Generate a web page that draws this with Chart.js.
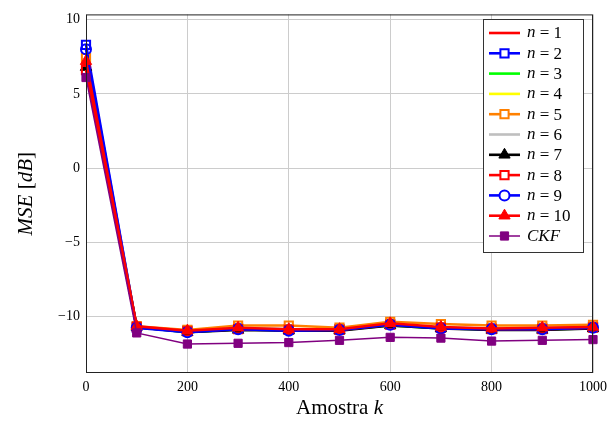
<!DOCTYPE html>
<html lang="pt">
<head>
    <meta charset="UTF-8">
    <title>MSE por amostra</title>
    <script src="https://cdn.jsdelivr.net/npm/chart.js"></script>
    <style>
        body { margin: 0; background: #fff; }
        #wrap { width: 614px; height: 423px; }
    </style>
</head>
<body>
    <div id="wrap"><canvas id="chart" width="614" height="423"></canvas></div>
    <script>
        // Data
        const samples = [0, 100, 200, 300, 400, 500, 600, 700, 800, 900, 1000];
        const xTicks = [0, 200, 400, 600, 800, 1000];
        const yTicks = [-10, -5, 0, 5, 10];

        const mseN1  = [7.0, -10.70, -11.00, -10.85, -10.90, -10.90, -10.55, -10.75, -10.85, -10.85, -10.75];
        const mseN2  = [8.3, -10.75, -10.95, -10.80, -10.85, -10.85, -10.50, -10.75, -10.80, -10.80, -10.70];
        const mseN3  = [7.1, -10.70, -11.05, -10.85, -10.90, -10.90, -10.60, -10.80, -10.85, -10.85, -10.80];
        const mseN4  = [7.2, -10.70, -11.00, -10.80, -10.85, -10.90, -10.55, -10.75, -10.80, -10.80, -10.75];
        const mseN5  = [7.4, -10.65, -10.90, -10.60, -10.60, -10.75, -10.35, -10.50, -10.60, -10.60, -10.55];
        const mseN6  = [7.0, -10.70, -11.00, -10.85, -10.90, -10.90, -10.60, -10.75, -10.85, -10.85, -10.80];
        const mseN7  = [6.8, -10.70, -11.05, -10.90, -10.95, -10.95, -10.60, -10.80, -10.90, -10.90, -10.80];
        const mseN8  = [6.6, -10.70, -11.00, -10.85, -10.90, -10.90, -10.55, -10.75, -10.85, -10.85, -10.75];
        const mseN9  = [8.0, -10.75, -11.05, -10.85, -10.95, -10.90, -10.55, -10.80, -10.85, -10.85, -10.75];
        const mseN10 = [7.2, -10.65, -10.95, -10.75, -10.85, -10.85, -10.45, -10.70, -10.80, -10.75, -10.70];
        const mseCKF = [6.1, -11.10, -11.85, -11.80, -11.75, -11.60, -11.40, -11.45, -11.65, -11.60, -11.55];

        const seriesNames = ['n = 1', 'n = 2', 'n = 3', 'n = 4', 'n = 5', 'n = 6', 'n = 7', 'n = 8', 'n = 9', 'n = 10', 'CKF'];
        const seriesValues = [mseN1, mseN2, mseN3, mseN4, mseN5, mseN6, mseN7, mseN8, mseN9, mseN10, mseCKF];

        // line colour, marker style, filled marker, line width
        const styles = [
            { color: '#ff0000', mark: false },
            { color: '#0000ff', mark: 'rect', fill: false },
            { color: '#00ff00', mark: false },
            { color: '#ffff00', mark: false },
            { color: '#ff8000', mark: 'rect', fill: false },
            { color: '#bfbfbf', mark: false },
            { color: '#000000', mark: 'triangle', fill: true },
            { color: '#ff0000', mark: 'rect', fill: false },
            { color: '#0000ff', mark: 'circle', fill: false },
            { color: '#ff0000', mark: 'triangle', fill: true },
            { color: '#800080', mark: 'rect', fill: true, width: 1.5 }
        ];

        const markRadius = s => (s.mark === 'triangle' ? 6.5 : (s.mark === 'circle' ? 5 : 5.8));

        const datasets = seriesValues.map((vals, i) => {
            const s = styles[i];
            return {
                label: seriesNames[i],
                data: samples.map((x, j) => ({ x: x, y: vals[j] })),
                borderColor: s.color,
                borderWidth: s.width || 2.6,
                backgroundColor: s.color,
                pointStyle: s.mark || 'circle',
                pointRadius: s.mark ? markRadius(s) : 0,
                pointBorderWidth: s.fill ? 1 : 2,
                pointBorderColor: s.color,
                pointBackgroundColor: s.fill ? s.color : 'rgba(0,0,0,0)',
                order: 20 - i,
                clip: false,
                tension: 0
            };
        });

        const serif = '"Liberation Serif", "DejaVu Serif", serif';

        // full frame, axis titles and boxed legend inside the plot
        const decorations = {
            id: 'decorations',
            afterDraw(chart) {
                const ctx = chart.ctx;
                const a = chart.chartArea;
                ctx.save();
                ctx.strokeStyle = '#222';
                ctx.lineWidth = 1;
                ctx.strokeRect(a.left + 0.5, a.top + 0.5, a.right - a.left - 1, a.bottom - a.top - 1);

                // x title
                ctx.fillStyle = '#000';
                ctx.textBaseline = 'alphabetic';
                ctx.font = '21px ' + serif;
                const t1 = 'Amostra ';
                const w1 = ctx.measureText(t1).width;
                ctx.font = 'italic 21px ' + serif;
                const w2 = ctx.measureText('k').width;
                const x0 = (a.left + a.right) / 2 - (w1 + w2) / 2;
                ctx.font = '21px ' + serif;
                ctx.fillText(t1, x0, 414);
                ctx.font = 'italic 21px ' + serif;
                ctx.fillText('k', x0 + w1, 414);

                // y title
                ctx.save();
                ctx.translate(32, (a.top + a.bottom) / 2);
                ctx.rotate(-Math.PI / 2);
                const parts = [['MSE ', true], ['[', false], ['dB', true], [']', false]];
                let total = 0;
                parts.forEach(p => {
                    ctx.font = (p[1] ? 'italic ' : '') + '21px ' + serif;
                    total += ctx.measureText(p[0]).width;
                });
                let px = -total / 2;
                parts.forEach(p => {
                    ctx.font = (p[1] ? 'italic ' : '') + '21px ' + serif;
                    ctx.fillText(p[0], px, 0);
                    px += ctx.measureText(p[0]).width;
                });
                ctx.restore();

                // legend
                const lx = 483, ly = 19, lw = 100, lh = 233;
                ctx.fillStyle = '#fff';
                ctx.fillRect(lx, ly, lw, lh);
                ctx.strokeStyle = '#333';
                ctx.lineWidth = 1;
                ctx.strokeRect(lx + 0.5, ly + 0.5, lw, lh);
                styles.forEach((s, i) => {
                    const cy = 33 + i * 20.3;
                    ctx.strokeStyle = s.color;
                    ctx.lineWidth = s.width || 2.6;
                    ctx.beginPath();
                    ctx.moveTo(489, cy);
                    ctx.lineTo(520, cy);
                    ctx.stroke();
                    if (s.mark) {
                        ctx.fillStyle = s.fill ? s.color : '#fff';
                        ctx.strokeStyle = s.color;
                        ctx.lineWidth = s.fill ? 1 : 2;
                        Chart.helpers.drawPoint(ctx, {
                            pointStyle: s.mark,
                            radius: markRadius(s),
                            borderWidth: s.fill ? 1 : 2,
                            rotation: 0
                        }, 504.5, cy);
                    }
                    ctx.fillStyle = '#000';
                    ctx.textBaseline = 'middle';
                    if (i === 10) {
                        ctx.font = 'italic 17px ' + serif;
                        ctx.fillText('CKF', 527, cy + 1);
                    } else {
                        ctx.font = 'italic 17px ' + serif;
                        ctx.fillText('n', 527, cy);
                        const wn = ctx.measureText('n').width;
                        ctx.font = '17px ' + serif;
                        ctx.fillText(' = ' + (i + 1), 527 + wn, cy + 1);
                    }
                });
                ctx.restore();
            }
        };

        new Chart(document.getElementById('chart'), {
            type: 'line',
            data: { datasets: datasets },
            plugins: [decorations],
            options: {
                responsive: false,
                animation: false,
                layout: { padding: { top: 13, right: 21, left: 0, bottom: 0 } },
                plugins: {
                    legend: { display: false },
                    tooltip: { enabled: false }
                },
                scales: {
                    x: {
                        type: 'linear',
                        min: 0,
                        max: 1000,
                        afterBuildTicks: axis => { axis.ticks = xTicks.map(v => ({ value: v })); },
                        afterFit: axis => { axis.height = 50; },
                        grid: { color: '#cccccc', drawTicks: false },
                        border: { display: false },
                        ticks: {
                            color: '#000',
                            padding: 6,
                            maxRotation: 0,
                            font: { family: serif, size: 14 },
                            callback: v => String(v)
                        }
                    },
                    y: {
                        min: -13.8,
                        max: 10.35,
                        afterBuildTicks: axis => { axis.ticks = yTicks.map(v => ({ value: v })); },
                        afterFit: axis => { axis.width = 86; },
                        grid: { color: '#cccccc', drawTicks: false },
                        border: { display: false },
                        ticks: {
                            color: '#000',
                            padding: 6,
                            font: { family: serif, size: 14 },
                            callback: v => (v < 0 ? '\u2212' + Math.abs(v) : String(v))
                        }
                    }
                }
            }
        });
    </script>
</body>
</html>
